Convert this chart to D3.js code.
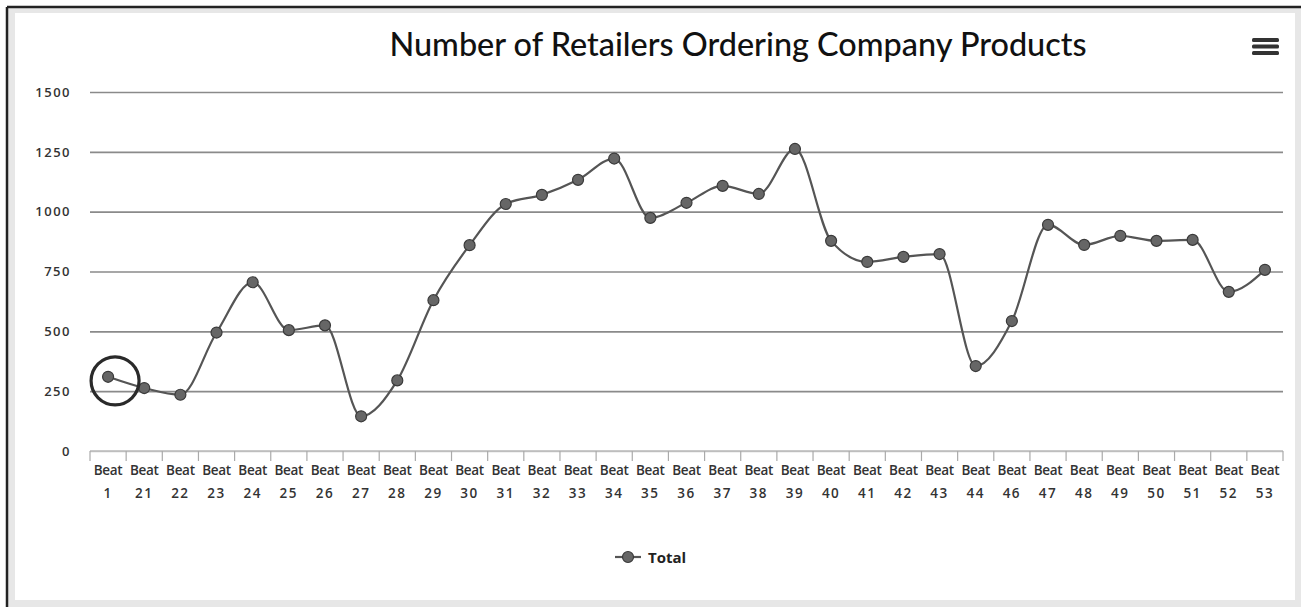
<!DOCTYPE html>
<html>
<head>
<meta charset="utf-8">
<script src="https://cdn.jsdelivr.net/npm/d3@7"></script>
<style>
  html, body { margin: 0; padding: 0; background: #fff; }
  svg { display: block; }
</style>
</head>
<body>
<svg id="chart" width="1301" height="607"></svg>
<script>
// Beats and the number of retailers ordering in each
const beats = ["1", "21", "22", "23", "24", "25", "26", "27", "28", "29", "30", "31", "32", "33", "34", "35", "36", "37", "38", "39", "40", "41", "42", "43", "44", "46", "47", "48", "49", "50", "51", "52", "53"];
const totals = [310, 263, 235, 495, 705, 505, 525, 145, 295, 630, 860, 1032, 1070, 1133, 1222, 974, 1037, 1108, 1074, 1262, 878, 790, 811, 823, 355, 543, 945, 861, 899, 878, 882, 665, 757];
const yTicks = [0, 250, 500, 750, 1000, 1250, 1500];
const titleText = "Number of Retailers Ordering Company Products";
const seriesName = "Total";
const highlightedBeat = "1";

const svg = d3.select("#chart");
const W = 1301, H = 607;

// Panel frame: light grey margin with a dark edge on top and left
svg.append("rect").attr("x", 8).attr("y", 7).attr("width", W - 8).attr("height", H - 7).attr("fill", "#e7e7e7");
svg.append("rect").attr("x", 15).attr("y", 13).attr("width", 1280).attr("height", 587).attr("fill", "#fff");
svg.append("line").attr("x1", 7).attr("x2", W).attr("y1", 7).attr("y2", 7).attr("stroke", "#222").attr("stroke-width", 2.5);
svg.append("line").attr("x1", 7).attr("x2", 7).attr("y1", 7).attr("y2", H).attr("stroke", "#222").attr("stroke-width", 2.5);

const plot = { left: 90, right: 1283, top: 92, bottom: 451 };

const x = d3.scaleBand().domain(beats).range([plot.left, plot.right]).padding(0);
const y = d3.scaleLinear().domain([0, 1500]).range([plot.bottom, plot.top]);
const cx = d => x(d) + x.bandwidth() / 2;

// Title
svg.append("text")
  .attr("x", 738).attr("y", 56)
  .attr("text-anchor", "middle")
  .attr("font-family", "Lato, 'Open Sans', sans-serif")
  .attr("font-size", 32)
  .attr("font-weight", 500)
  .attr("fill", "#111")
  .attr("textLength", 697)
  .attr("lengthAdjust", "spacingAndGlyphs")
  .text(titleText);

// Context menu icon
const menu = svg.append("g").attr("transform", "translate(1252,38)");
[0, 6.5, 13].forEach(dy => {
  menu.append("rect").attr("x", 0).attr("y", dy).attr("width", 27).attr("height", 4).attr("rx", 1.5).attr("fill", "#333");
});

// Horizontal gridlines
const yAxis = d3.axisLeft(y).tickValues(yTicks).tickFormat(d3.format("d"))
  .tickSize(-(plot.right - plot.left)).tickPadding(20);
const gy = svg.append("g").attr("transform", `translate(${plot.left},0)`).call(yAxis);
gy.select(".domain").remove();
gy.selectAll(".tick line").attr("stroke", "#8a8a8a").attr("stroke-width", 1.6)
  .filter(d => d === 0).attr("stroke", "#c8c8c8");
gy.selectAll(".tick text")
  .attr("font-family", "'Open Sans', sans-serif")
  .attr("font-size", 13)
  .attr("font-weight", 600)
  .attr("letter-spacing", 1.5)
  .attr("fill", "#333")
  .attr("x", -19);

// X axis with ticks on category boundaries
const gx = svg.append("g").attr("transform", `translate(0,${plot.bottom})`);
gx.append("line").attr("x1", plot.left).attr("x2", plot.right).attr("stroke", "#bbb").attr("stroke-width", 1.5);
const bounds = beats.map(b => x(b)).concat([plot.right]);
gx.selectAll("line.tk").data(bounds).join("line")
  .attr("class", "tk")
  .attr("x1", d => d).attr("x2", d => d)
  .attr("y1", 0).attr("y2", 10)
  .attr("stroke", "#aaa").attr("stroke-width", 1.2);
const lbl = gx.selectAll("text.lbl").data(beats).join("text")
  .attr("class", "lbl")
  .attr("text-anchor", "middle")
  .attr("font-family", "'Open Sans', sans-serif")
  .attr("font-size", 13.5)
  .attr("font-weight", 600)
  .attr("fill", "#333");
lbl.append("tspan").attr("x", d => cx(d)).attr("y", 24).attr("letter-spacing", -0.3).text("Beat");
lbl.append("tspan").attr("x", d => cx(d)).attr("y", 47).attr("letter-spacing", 1.5).text(d => d);

// Series line
const pts = beats.map((b, i) => ({ beat: b, value: totals[i] }));
const line = d3.line().x(d => cx(d.beat)).y(d => y(d.value)).curve(d3.curveMonotoneX);
svg.append("path").datum(pts)
  .attr("d", line)
  .attr("fill", "none")
  .attr("stroke", "#555")
  .attr("stroke-width", 2.2);

svg.append("g").selectAll("circle").data(pts).join("circle")
  .attr("cx", d => cx(d.beat)).attr("cy", d => y(d.value))
  .attr("r", 5.5)
  .attr("fill", "#666")
  .attr("stroke", "#3a3a3a")
  .attr("stroke-width", 1.2);

// Ring drawn around the highlighted beat
const hp = pts.find(p => p.beat === highlightedBeat);
svg.append("circle")
  .attr("cx", cx(hp.beat) + 7).attr("cy", y(hp.value) + 4)
  .attr("r", 24)
  .attr("fill", "none")
  .attr("stroke", "#2a2a2a")
  .attr("stroke-width", 3.2);

// Legend
const lg = svg.append("g").attr("transform", "translate(615,557)");
lg.append("line").attr("x1", 0).attr("x2", 26).attr("stroke", "#555").attr("stroke-width", 2.2);
lg.append("circle").attr("cx", 13).attr("r", 5.5).attr("fill", "#666").attr("stroke", "#3a3a3a").attr("stroke-width", 1.2);
lg.append("text").attr("x", 33).attr("y", 5.5)
  .attr("font-family", "'Open Sans', sans-serif")
  .attr("font-size", 15).attr("font-weight", 700)
  .attr("fill", "#222")
  .text(seriesName);
</script>
</body>
</html>
